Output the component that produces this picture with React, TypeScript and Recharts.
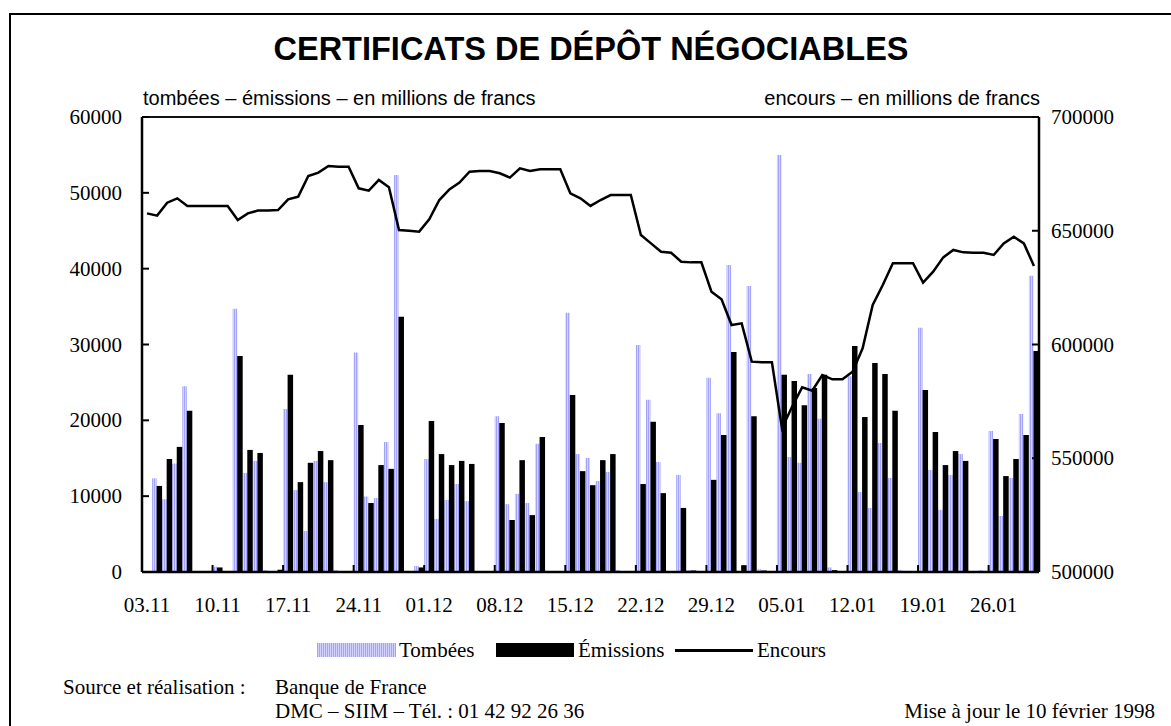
import React from 'react';
import { ComposedChart, Bar, Line, XAxis, YAxis, ReferenceLine } from 'recharts';

// jours ouvrés et week-ends du 03.11.1997 au 30.01.1998
const days = [
  '03.11', '04.11', '05.11', '06.11', '07.11', '08.11', '09.11',
  '10.11', '11.11', '12.11', '13.11', '14.11', '15.11', '16.11',
  '17.11', '18.11', '19.11', '20.11', '21.11', '22.11', '23.11',
  '24.11', '25.11', '26.11', '27.11', '28.11', '29.11', '30.11',
  '01.12', '02.12', '03.12', '04.12', '05.12', '06.12', '07.12',
  '08.12', '09.12', '10.12', '11.12', '12.12', '13.12', '14.12',
  '15.12', '16.12', '17.12', '18.12', '19.12', '20.12', '21.12',
  '22.12', '23.12', '24.12', '25.12', '26.12', '27.12', '28.12',
  '29.12', '30.12', '31.12', '01.01', '02.01', '03.01', '04.01',
  '05.01', '06.01', '07.01', '08.01', '09.01', '10.01', '11.01',
  '12.01', '13.01', '14.01', '15.01', '16.01', '17.01', '18.01',
  '19.01', '20.01', '21.01', '22.01', '23.01', '24.01', '25.01',
  '26.01', '27.01', '28.01', '29.01', '30.01',
];

const mondayTicks = [
  '03.11', '10.11', '17.11', '24.11', '01.12', '08.12', '15.12',
  '22.12', '29.12', '05.01', '12.01', '19.01', '26.01',
];

const tombees = [
  0, 12350, 9600, 14300, 24500, 0, 0,
  700, 0, 34700, 13050, 14650, 250, 0,
  21500, 10800, 5400, 14650, 11850, 250, 0,
  28950, 9950, 9750, 17150, 52350, 0, 800,
  14900, 7000, 9500, 11600, 9350, 0, 0,
  20550, 8950, 10300, 9100, 16900, 0, 0,
  34200, 15550, 15050, 12000, 13200, 250, 0,
  29950, 22700, 14500, 0, 12800, 250, 0,
  25600, 20950, 40500, 0, 37700, 350, 0,
  55000, 15150, 14400, 26100, 20200, 600, 0,
  25800, 10550, 8450, 17000, 12400, 250, 0,
  32200, 13450, 8200, 12800, 15550, 0, 250,
  18600, 7400, 12400, 20850, 39050,
];

const emissions = [
  0, 11350, 14900, 16500, 21250, 0, 0,
  600, 0, 28500, 16100, 15700, 0, 300,
  26000, 11850, 14400, 15950, 14750, 0, 0,
  19400, 9100, 14100, 13600, 33650, 0, 600,
  19900, 15550, 14100, 14650, 14250, 0, 0,
  19650, 6850, 14750, 7500, 17800, 0, 0,
  23350, 13300, 11450, 14750, 15550, 0, 0,
  11600, 19800, 10400, 0, 8450, 200, 0,
  12150, 18050, 29000, 900, 20550, 200, 0,
  26000, 25200, 22000, 24250, 26000, 250, 0,
  29800, 20450, 27550, 26100, 21250, 0, 0,
  24000, 18450, 14100, 15950, 14650, 0, 0,
  17550, 12650, 14900, 18050, 29150,
];

const encours = [
  657650, 656650, 662350, 664250, 660900, 660900, 660900,
  660900, 660900, 654700, 657650, 658850, 658850, 659100,
  663800, 665000, 674050, 675550, 678450, 678150, 678150,
  668650, 667600, 672300, 669100, 650350, 650050, 649600,
  655000, 663500, 668200, 671150, 675950, 676250, 676250,
  675250, 673350, 677450, 676250, 677000, 677000, 677000,
  666450, 664250, 660900, 663500, 665700, 665700, 665700,
  648150, 644450, 640800, 640350, 636400, 636100, 636100,
  623200, 619850, 608550, 609300, 592450, 592150, 592150,
  563150, 572650, 581150, 579700, 586600, 584700, 584700,
  588050, 598300, 617350, 626150, 635700, 635700, 635700,
  627200, 632000, 638300, 641550, 640500, 640350, 640350,
  639350, 644450, 647400, 644450, 634500,
];

const leftTicks = [0, 10000, 20000, 30000, 40000, 50000, 60000];
const rightTicks = [500000, 550000, 600000, 650000, 700000];

const data = days.map((d, i) => ({
  day: d,
  tombees: tombees[i],
  emissions: emissions[i],
  encours: encours[i],
}));

const W = 1171;
const H = 726;
const PLOT_LEFT = 142;
const PLOT_RIGHT = 1039;
const PLOT_TOP = 117;
const PLOT_BOTTOM = 572;
const BAND = (PLOT_RIGHT - PLOT_LEFT) / days.length;

const SERIF = '"Liberation Serif", "Times New Roman", serif';
const SANS = '"Liberation Sans", Arial, sans-serif';
const STRIPES = 'repeating-linear-gradient(90deg, #a3a3fa 0px, #a3a3fa 1px, #d2d2fd 1px, #d2d2fd 2px)';

const LeftTick = (props: any) => {
  const { x, y, payload } = props;
  return (
    <g>
      <line x1={x + 20} x2={x + 27} y1={y} y2={y} stroke="#000" strokeWidth={2} />
      <text x={x} y={y} textAnchor="end" dominantBaseline="central" fontFamily={SERIF} fontSize={21} fill="#000">
        {payload.value}
      </text>
    </g>
  );
};

const RightTick = (props: any) => {
  const { x, y, payload } = props;
  return (
    <g>
      <line x1={x - 12} x2={x - 19} y1={y} y2={y} stroke="#000" strokeWidth={2} />
      <text x={x} y={y} textAnchor="start" dominantBaseline="central" fontFamily={SERIF} fontSize={21} fill="#000">
        {payload.value}
      </text>
    </g>
  );
};

const DayTick = (props: any) => {
  const { x, y, payload } = props;
  const edge = x - BAND / 2;
  return (
    <g>
      <line x1={edge} x2={edge} y1={y} y2={y - 7} stroke="#000" strokeWidth={2} />
      <text x={x} y={y + 33} textAnchor="middle" dominantBaseline="central" fontFamily={SERIF} fontSize={21} fill="#000">
        {payload.value}
      </text>
    </g>
  );
};

const abs = (left: number, top: number, extra: React.CSSProperties = {}): React.CSSProperties => ({
  position: 'absolute',
  left,
  top,
  whiteSpace: 'nowrap',
  lineHeight: 1,
  ...extra,
});

export default function App() {
  return (
    <div style={{ position: 'absolute', left: 0, top: 0, width: W, height: H, background: '#fff', overflow: 'hidden' }}>
      <div style={{ position: 'absolute', left: 9, top: 13, width: 1300, height: 900, borderLeft: '2px solid #000', borderTop: '2px solid #000' }} />

      <div style={abs(91, 33, { width: 1000, textAlign: 'center', fontFamily: SANS, fontWeight: 'bold', fontSize: 32.5 })}>
        CERTIFICATS DE DÉPÔT NÉGOCIABLES
      </div>
      <div style={abs(143, 88, { fontFamily: SANS, fontSize: 20 })}>
        tombées – émissions – en millions de francs
      </div>
      <div style={abs(640, 88, { width: 400, textAlign: 'right', fontFamily: SANS, fontSize: 20 })}>
        encours – en millions de francs
      </div>

      <div style={{ position: 'absolute', left: 0, top: 0 }}>
        <ComposedChart
          width={W}
          height={H}
          data={data}
          margin={{ top: PLOT_TOP, bottom: H - PLOT_BOTTOM - 40, left: PLOT_LEFT - 60, right: W - PLOT_RIGHT - 60 }}
          barCategoryGap={0}
          barGap={0}
        >
          <defs>
            <pattern id="tombeesFill" patternUnits="userSpaceOnUse" width={2} height={4}>
              <rect x={0} y={0} width={1} height={4} fill="#a3a3fa" />
              <rect x={1} y={0} width={1} height={4} fill="#d2d2fd" />
            </pattern>
          </defs>
          <XAxis
            dataKey="day"
            ticks={mondayTicks}
            interval={0}
            height={40}
            tickSize={0}
            tickMargin={0}
            tick={<DayTick />}
            axisLine={{ stroke: '#000', strokeWidth: 2.5 }}
          />
          <YAxis
            yAxisId="left"
            orientation="left"
            width={60}
            domain={[0, 60000]}
            ticks={leftTicks}
            tickSize={0}
            tickMargin={20}
            tick={<LeftTick />}
            axisLine={{ stroke: '#000', strokeWidth: 2.5 }}
          />
          <YAxis
            yAxisId="right"
            orientation="right"
            width={60}
            domain={[500000, 700000]}
            ticks={rightTicks}
            tickSize={0}
            tickMargin={12}
            tick={<RightTick />}
            axisLine={{ stroke: '#000', strokeWidth: 2.5 }}
          />
          <ReferenceLine yAxisId="left" y={60000} stroke="#111" strokeWidth={2} />
          <Bar yAxisId="left" dataKey="tombees" fill="url(#tombeesFill)" barSize={4.5} isAnimationActive={false} />
          <Bar yAxisId="left" dataKey="emissions" fill="#000" barSize={5.5} isAnimationActive={false} />
          <Line
            yAxisId="right"
            dataKey="encours"
            type="linear"
            stroke="#000"
            strokeWidth={2.5}
            dot={false}
            isAnimationActive={false}
          />
        </ComposedChart>
      </div>

      <div style={abs(317, 643, { width: 79, height: 14, background: STRIPES })} />
      <div style={abs(399, 640, { fontFamily: SERIF, fontSize: 21 })}>Tombées</div>
      <div style={abs(496, 643, { width: 78, height: 14, background: '#000' })} />
      <div style={abs(578, 640, { fontFamily: SERIF, fontSize: 21 })}>Émissions</div>
      <div style={abs(675, 649, { width: 78, height: 2.5, background: '#000' })} />
      <div style={abs(757, 640, { fontFamily: SERIF, fontSize: 21 })}>Encours</div>

      <div style={abs(63, 677, { fontFamily: SERIF, fontSize: 21 })}>Source et réalisation :</div>
      <div style={abs(275, 677, { fontFamily: SERIF, fontSize: 21 })}>Banque de France</div>
      <div style={abs(275, 701, { fontFamily: SERIF, fontSize: 21 })}>DMC – SIIM – Tél. : 01 42 92 26 36</div>
      <div style={abs(755, 701, { width: 400, textAlign: 'right', fontFamily: SERIF, fontSize: 21 })}>
        Mise à jour le 10 février 1998
      </div>
    </div>
  );
}
